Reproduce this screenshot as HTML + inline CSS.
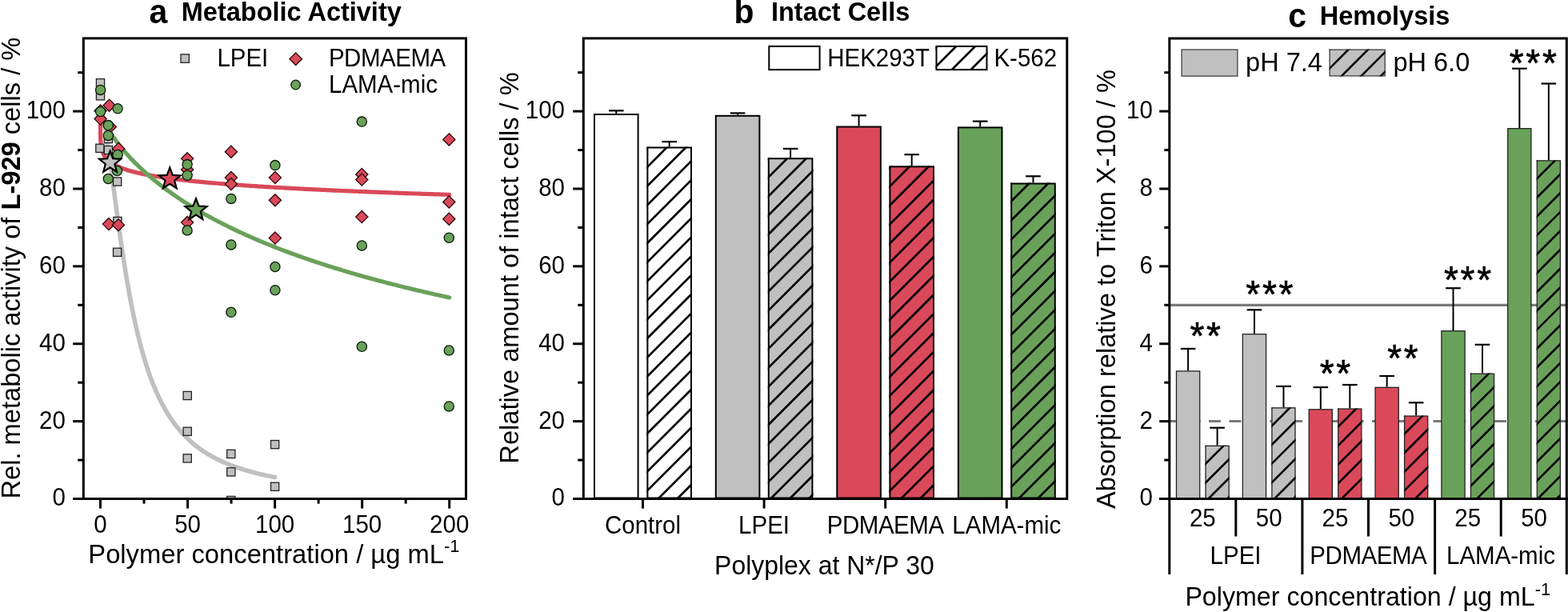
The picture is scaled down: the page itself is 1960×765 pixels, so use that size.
<!DOCTYPE html>
<html><head><meta charset="utf-8"><title>Figure</title>
<style>html,body{margin:0;padding:0;background:#fff;} svg{display:block;}</style>
</head><body>
<svg width="1960" height="765" viewBox="0 0 1960 765" font-family='"Liberation Sans", Arial, sans-serif'>
<rect width="1960" height="765" fill="#fff"/>
<clipPath id="plotA"><rect x="105.8" y="49.4" width="475.2" height="572.6"/></clipPath>
<g clip-path="url(#plotA)">
<path d="M126.15,139.70 L126.18,139.74 L126.22,139.79 L126.25,139.84 L126.28,139.90 L126.32,139.96 L126.35,140.02 L126.39,140.09 L126.43,140.17 L126.48,140.25 L126.52,140.34 L126.57,140.43 L126.61,140.53 L126.67,140.64 L126.72,140.75 L126.77,140.88 L126.83,141.01 L126.89,141.15 L126.95,141.31 L127.02,141.47 L127.09,141.65 L127.16,141.84 L127.24,142.05 L127.32,142.27 L127.40,142.51 L127.48,142.76 L127.57,143.04 L127.67,143.33 L127.77,143.65 L127.87,143.99 L127.98,144.36 L128.09,144.75 L128.21,145.17 L128.33,145.62 L128.46,146.11 L128.59,146.63 L128.73,147.19 L128.88,147.79 L129.03,148.43 L129.19,149.12 L129.36,149.86 L129.54,150.65 L129.72,151.50 L129.91,152.41 L130.11,153.39 L130.32,154.43 L130.54,155.55 L130.77,156.75 L131.01,158.03 L131.26,159.40 L131.52,160.86 L131.79,162.43 L132.08,164.10 L132.38,165.88 L132.69,167.78 L133.02,169.81 L133.36,171.98 L133.71,174.28 L134.09,176.73 L134.48,179.33 L134.88,182.10 L135.31,185.04 L135.76,188.16 L136.22,191.46 L136.71,194.96 L137.22,198.66 L137.75,202.57 L138.30,206.69 L138.88,211.04 L139.49,215.61 L140.13,220.42 L140.79,225.46 L141.49,230.75 L142.21,236.28 L142.97,242.06 L143.76,248.08 L144.59,254.36 L145.46,260.87 L146.36,267.63 L147.31,274.62 L148.96,286.59 L150.61,298.26 L152.26,309.61 L153.91,320.59 L155.56,331.22 L157.21,341.46 L158.86,351.32 L160.51,360.80 L162.16,369.90 L163.80,378.64 L165.45,387.01 L167.10,395.03 L168.75,402.71 L170.40,410.06 L172.05,417.10 L173.70,423.84 L175.35,430.28 L177.00,436.45 L178.65,442.35 L180.30,447.99 L181.95,453.40 L183.60,458.58 L185.25,463.53 L186.90,468.28 L188.55,472.83 L190.20,477.19 L191.85,481.37 L193.50,485.38 L195.15,489.23 L196.79,492.93 L198.44,496.47 L200.09,499.88 L201.74,503.15 L203.39,506.30 L205.04,509.33 L206.69,512.24 L208.34,515.04 L209.99,517.74 L211.64,520.33 L213.29,522.84 L214.94,525.25 L216.59,527.58 L218.24,529.82 L219.89,531.99 L221.54,534.08 L223.19,536.09 L224.84,538.04 L226.49,539.93 L228.14,541.75 L229.78,543.51 L231.43,545.22 L233.08,546.86 L234.73,548.46 L236.38,550.01 L238.03,551.50 L239.68,552.95 L241.33,554.36 L242.98,555.72 L244.63,557.05 L246.28,558.33 L247.93,559.57 L249.58,560.78 L251.23,561.95 L252.88,563.09 L254.53,564.20 L256.18,565.28 L257.83,566.32 L259.48,567.34 L261.13,568.33 L262.77,569.29 L264.42,570.22 L266.07,571.14 L267.72,572.02 L269.37,572.89 L271.02,573.73 L272.67,574.55 L274.32,575.34 L275.97,576.12 L277.62,576.88 L279.27,577.62 L280.92,578.34 L282.57,579.05 L284.22,579.73 L285.87,580.40 L287.52,581.06 L289.17,581.70 L290.82,582.32 L292.47,582.93 L294.12,583.53 L295.76,584.11 L297.41,584.68 L299.06,585.23 L300.71,585.78 L302.36,586.31 L304.01,586.83 L305.66,587.33 L307.31,587.83 L308.96,588.32 L310.61,588.79 L312.26,589.26 L313.91,589.72 L315.56,590.16 L317.21,590.60 L318.86,591.03 L320.51,591.45 L322.16,591.86 L323.81,592.26 L325.46,592.66 L327.11,593.04 L328.75,593.42 L330.40,593.79 L332.05,594.16 L333.70,594.52 L335.35,594.87 L337.00,595.21 L338.65,595.55 L340.30,595.88 L341.95,596.20 L343.60,596.52" fill="none" stroke="#c0c0c0" stroke-width="5.6" stroke-linecap="round" stroke-linejoin="round"/>
<path d="M125.50,153.98 L125.50,154.10 L125.50,154.22 L125.50,154.34 L125.50,154.46 L125.50,154.59 L125.50,154.71 L125.50,154.84 L125.50,154.97 L125.50,155.10 L125.50,155.23 L125.50,155.36 L125.50,155.49 L125.50,155.62 L125.50,155.75 L125.50,155.89 L125.50,156.02 L125.50,156.16 L125.50,156.30 L125.50,156.44 L125.50,156.57 L125.50,156.72 L125.50,156.86 L125.50,157.00 L125.50,157.14 L125.50,157.29 L125.50,157.44 L125.50,157.58 L125.50,157.73 L125.50,157.88 L125.50,158.03 L125.51,158.19 L125.51,158.34 L125.51,158.49 L125.51,158.65 L125.51,158.81 L125.51,158.96 L125.51,159.12 L125.51,159.28 L125.51,159.44 L125.51,159.61 L125.51,159.77 L125.51,159.94 L125.51,160.10 L125.51,160.27 L125.51,160.44 L125.51,160.61 L125.51,160.78 L125.51,160.96 L125.51,161.13 L125.51,161.31 L125.51,161.48 L125.51,161.66 L125.52,161.84 L125.52,162.02 L125.52,162.21 L125.52,162.39 L125.52,162.58 L125.52,162.76 L125.52,162.95 L125.52,163.14 L125.52,163.33 L125.52,163.52 L125.53,163.72 L125.53,163.91 L125.53,164.11 L125.53,164.31 L125.53,164.51 L125.53,164.71 L125.53,164.91 L125.54,165.12 L125.54,165.32 L125.54,165.53 L125.54,165.74 L125.54,165.95 L125.55,166.16 L125.55,166.37 L125.55,166.59 L125.55,166.81 L125.56,167.02 L125.56,167.24 L125.56,167.47 L125.56,167.69 L125.57,167.91 L125.57,168.14 L125.57,168.37 L125.58,168.60 L125.58,168.83 L125.59,169.06 L125.59,169.30 L125.60,169.53 L125.60,169.77 L125.61,170.01 L125.61,170.25 L125.62,170.50 L125.62,170.74 L125.63,170.99 L125.64,171.24 L125.64,171.49 L125.65,171.74 L125.66,172.00 L125.67,172.25 L125.67,172.51 L125.68,172.77 L125.69,173.03 L125.70,173.30 L125.71,173.56 L125.72,173.83 L125.74,174.10 L125.75,174.37 L125.76,174.65 L125.77,174.92 L125.79,175.20 L125.80,175.48 L125.82,175.76 L125.83,176.04 L125.85,176.33 L125.87,176.61 L125.89,176.90 L125.91,177.19 L125.93,177.49 L125.95,177.78 L125.97,178.08 L126.00,178.38 L126.02,178.68 L126.05,178.99 L126.08,179.29 L126.11,179.60 L126.14,179.91 L126.17,180.22 L126.20,180.54 L126.24,180.85 L126.28,181.17 L126.32,181.49 L126.36,181.82 L126.40,182.14 L126.45,182.47 L126.50,182.80 L126.55,183.13 L126.60,183.47 L126.66,183.80 L126.72,184.14 L126.78,184.48 L126.84,184.83 L126.91,185.17 L126.98,185.52 L127.06,185.87 L127.14,186.23 L127.22,186.58 L127.31,186.94 L127.40,187.30 L127.50,187.66 L127.60,188.03 L127.71,188.39 L127.82,188.76 L127.94,189.14 L128.07,189.51 L128.20,189.89 L128.33,190.27 L128.48,190.65 L128.63,191.04 L128.79,191.42 L128.96,191.81 L129.14,192.21 L129.32,192.60 L129.52,193.00 L129.72,193.40 L129.94,193.80 L130.16,194.21 L130.40,194.61 L130.65,195.03 L130.91,195.44 L131.19,195.85 L131.48,196.27 L131.79,196.69 L132.11,197.12 L132.44,197.54 L132.80,197.97 L133.17,198.41 L133.56,198.84 L133.97,199.28 L134.40,199.72 L134.86,200.16 L135.34,200.61 L135.84,201.06 L136.37,201.51 L136.92,201.96 L137.50,202.42 L138.12,202.88 L138.76,203.34 L139.44,203.81 L140.15,204.28 L140.89,204.75 L141.68,205.22 L142.51,205.70 L143.37,206.18 L144.29,206.66 L145.24,207.15 L146.25,207.63 L147.31,208.13 L149.92,209.25 L152.52,210.28 L155.13,211.22 L157.73,212.09 L160.34,212.90 L162.95,213.65 L165.55,214.37 L168.16,215.04 L170.77,215.68 L173.37,216.28 L175.98,216.86 L178.58,217.41 L181.19,217.94 L183.80,218.45 L186.40,218.93 L189.01,219.40 L191.62,219.85 L194.22,220.29 L196.83,220.71 L199.43,221.12 L202.04,221.52 L204.65,221.90 L207.25,222.27 L209.86,222.64 L212.47,222.99 L215.07,223.33 L217.68,223.67 L220.28,223.99 L222.89,224.31 L225.50,224.62 L228.10,224.93 L230.71,225.22 L233.32,225.51 L235.92,225.80 L238.53,226.07 L241.13,226.35 L243.74,226.61 L246.35,226.88 L248.95,227.13 L251.56,227.39 L254.17,227.63 L256.77,227.88 L259.38,228.11 L261.98,228.35 L264.59,228.58 L267.20,228.81 L269.80,229.03 L272.41,229.25 L275.02,229.47 L277.62,229.68 L280.23,229.89 L282.83,230.09 L285.44,230.30 L288.05,230.50 L290.65,230.70 L293.26,230.89 L295.86,231.08 L298.47,231.27 L301.08,231.46 L303.68,231.64 L306.29,231.83 L308.90,232.01 L311.50,232.18 L314.11,232.36 L316.71,232.53 L319.32,232.70 L321.93,232.87 L324.53,233.04 L327.14,233.20 L329.75,233.37 L332.35,233.53 L334.96,233.69 L337.56,233.84 L340.17,234.00 L342.78,234.15 L345.38,234.31 L347.99,234.46 L350.60,234.61 L353.20,234.75 L355.81,234.90 L358.41,235.05 L361.02,235.19 L363.63,235.33 L366.23,235.47 L368.84,235.61 L371.45,235.75 L374.05,235.88 L376.66,236.02 L379.26,236.15 L381.87,236.29 L384.48,236.42 L387.08,236.55 L389.69,236.68 L392.30,236.81 L394.90,236.93 L397.51,237.06 L400.11,237.18 L402.72,237.31 L405.33,237.43 L407.93,237.55 L410.54,237.67 L413.15,237.79 L415.75,237.91 L418.36,238.03 L420.96,238.15 L423.57,238.26 L426.18,238.38 L428.78,238.49 L431.39,238.60 L433.99,238.72 L436.60,238.83 L439.21,238.94 L441.81,239.05 L444.42,239.16 L447.03,239.26 L449.63,239.37 L452.24,239.48 L454.84,239.58 L457.45,239.69 L460.06,239.79 L462.66,239.90 L465.27,240.00 L467.88,240.10 L470.48,240.20 L473.09,240.30 L475.69,240.40 L478.30,240.50 L480.91,240.60 L483.51,240.70 L486.12,240.80 L488.73,240.90 L491.33,240.99 L493.94,241.09 L496.54,241.18 L499.15,241.28 L501.76,241.37 L504.36,241.46 L506.97,241.56 L509.58,241.65 L512.18,241.74 L514.79,241.83 L517.39,241.92 L520.00,242.01 L522.61,242.10 L525.21,242.19 L527.82,242.28 L530.43,242.37 L533.03,242.45 L535.64,242.54 L538.24,242.63 L540.85,242.71 L543.46,242.80 L546.06,242.88 L548.67,242.97 L551.28,243.05 L553.88,243.13 L556.49,243.22 L559.09,243.30 L561.70,243.38" fill="none" stroke="#d9495a" stroke-width="5.2" stroke-linecap="round" stroke-linejoin="round"/>
<path d="M127.68,146.24 L127.77,146.46 L127.86,146.68 L127.95,146.91 L128.05,147.15 L128.15,147.39 L128.26,147.64 L128.37,147.90 L128.48,148.17 L128.60,148.44 L128.72,148.73 L128.85,149.02 L128.98,149.32 L129.12,149.63 L129.27,149.94 L129.42,150.27 L129.57,150.61 L129.73,150.95 L129.90,151.31 L130.08,151.68 L130.26,152.05 L130.45,152.44 L130.65,152.84 L130.85,153.25 L131.06,153.68 L131.29,154.11 L131.52,154.56 L131.76,155.02 L132.00,155.50 L132.26,155.98 L132.53,156.49 L132.81,157.00 L133.10,157.53 L133.41,158.08 L133.72,158.64 L134.05,159.22 L134.39,159.81 L134.74,160.43 L135.11,161.05 L135.49,161.70 L135.89,162.36 L136.30,163.05 L136.73,163.75 L137.18,164.47 L137.65,165.21 L138.13,165.97 L138.63,166.75 L139.15,167.55 L139.70,168.38 L140.26,169.22 L140.85,170.09 L141.46,170.99 L142.10,171.90 L142.76,172.85 L143.44,173.81 L144.16,174.80 L144.90,175.82 L145.67,176.87 L146.48,177.94 L147.31,179.04 L149.92,182.38 L152.52,185.59 L155.13,188.69 L157.73,191.69 L160.34,194.60 L162.95,197.42 L165.55,200.16 L168.16,202.83 L170.77,205.42 L173.37,207.96 L175.98,210.43 L178.58,212.85 L181.19,215.21 L183.80,217.53 L186.40,219.79 L189.01,222.01 L191.62,224.18 L194.22,226.31 L196.83,228.40 L199.43,230.46 L202.04,232.47 L204.65,234.45 L207.25,236.40 L209.86,238.31 L212.47,240.19 L215.07,242.05 L217.68,243.87 L220.28,245.66 L222.89,247.43 L225.50,249.17 L228.10,250.88 L230.71,252.57 L233.32,254.23 L235.92,255.87 L238.53,257.49 L241.13,259.08 L243.74,260.65 L246.35,262.21 L248.95,263.74 L251.56,265.25 L254.17,266.74 L256.77,268.21 L259.38,269.67 L261.98,271.11 L264.59,272.52 L267.20,273.93 L269.80,275.31 L272.41,276.68 L275.02,278.03 L277.62,279.37 L280.23,280.69 L282.83,282.00 L285.44,283.29 L288.05,284.57 L290.65,285.83 L293.26,287.08 L295.86,288.32 L298.47,289.54 L301.08,290.75 L303.68,291.95 L306.29,293.13 L308.90,294.30 L311.50,295.47 L314.11,296.61 L316.71,297.75 L319.32,298.88 L321.93,299.99 L324.53,301.10 L327.14,302.19 L329.75,303.28 L332.35,304.35 L334.96,305.41 L337.56,306.46 L340.17,307.51 L342.78,308.54 L345.38,309.57 L347.99,310.58 L350.60,311.59 L353.20,312.58 L355.81,313.57 L358.41,314.55 L361.02,315.52 L363.63,316.48 L366.23,317.44 L368.84,318.38 L371.45,319.32 L374.05,320.25 L376.66,321.17 L379.26,322.08 L381.87,322.99 L384.48,323.89 L387.08,324.78 L389.69,325.67 L392.30,326.54 L394.90,327.41 L397.51,328.28 L400.11,329.13 L402.72,329.98 L405.33,330.83 L407.93,331.66 L410.54,332.49 L413.15,333.32 L415.75,334.14 L418.36,334.95 L420.96,335.75 L423.57,336.55 L426.18,337.34 L428.78,338.13 L431.39,338.91 L433.99,339.69 L436.60,340.46 L439.21,341.22 L441.81,341.98 L444.42,342.74 L447.03,343.49 L449.63,344.23 L452.24,344.97 L454.84,345.70 L457.45,346.43 L460.06,347.15 L462.66,347.87 L465.27,348.58 L467.88,349.29 L470.48,349.99 L473.09,350.69 L475.69,351.38 L478.30,352.07 L480.91,352.75 L483.51,353.43 L486.12,354.11 L488.73,354.78 L491.33,355.44 L493.94,356.10 L496.54,356.76 L499.15,357.42 L501.76,358.06 L504.36,358.71 L506.97,359.35 L509.58,359.99 L512.18,360.62 L514.79,361.25 L517.39,361.87 L520.00,362.49 L522.61,363.11 L525.21,363.73 L527.82,364.33 L530.43,364.94 L533.03,365.54 L535.64,366.14 L538.24,366.74 L540.85,367.33 L543.46,367.92 L546.06,368.50 L548.67,369.08 L551.28,369.66 L553.88,370.23 L556.49,370.80 L559.09,371.37 L561.70,371.93" fill="none" stroke="#6aa15a" stroke-width="5.2" stroke-linecap="round" stroke-linejoin="round"/>
<rect x="120.40" y="98.60" width="10.2" height="10.2" fill="#c0c0c0" stroke="#222" stroke-width="1.3"/>
<rect x="120.40" y="114.70" width="10.2" height="10.2" fill="#c0c0c0" stroke="#222" stroke-width="1.3"/>
<rect x="119.80" y="180.20" width="10.2" height="10.2" fill="#c0c0c0" stroke="#222" stroke-width="1.3"/>
<rect x="130.30" y="168.40" width="10.2" height="10.2" fill="#c0c0c0" stroke="#222" stroke-width="1.3"/>
<rect x="130.30" y="182.50" width="10.2" height="10.2" fill="#c0c0c0" stroke="#222" stroke-width="1.3"/>
<rect x="141.50" y="221.90" width="10.2" height="10.2" fill="#c0c0c0" stroke="#222" stroke-width="1.3"/>
<rect x="141.80" y="271.40" width="10.2" height="10.2" fill="#c0c0c0" stroke="#222" stroke-width="1.3"/>
<rect x="141.50" y="310.20" width="10.2" height="10.2" fill="#c0c0c0" stroke="#222" stroke-width="1.3"/>
<rect x="229.10" y="489.40" width="10.2" height="10.2" fill="#c0c0c0" stroke="#222" stroke-width="1.3"/>
<rect x="229.10" y="534.20" width="10.2" height="10.2" fill="#c0c0c0" stroke="#222" stroke-width="1.3"/>
<rect x="229.10" y="567.80" width="10.2" height="10.2" fill="#c0c0c0" stroke="#222" stroke-width="1.3"/>
<rect x="283.70" y="562.30" width="10.2" height="10.2" fill="#c0c0c0" stroke="#222" stroke-width="1.3"/>
<rect x="283.70" y="584.80" width="10.2" height="10.2" fill="#c0c0c0" stroke="#222" stroke-width="1.3"/>
<rect x="283.70" y="620.40" width="10.2" height="10.2" fill="#c0c0c0" stroke="#222" stroke-width="1.3"/>
<rect x="338.50" y="550.50" width="10.2" height="10.2" fill="#c0c0c0" stroke="#222" stroke-width="1.3"/>
<rect x="338.50" y="603.20" width="10.2" height="10.2" fill="#c0c0c0" stroke="#222" stroke-width="1.3"/>
<polygon points="125.60,130.90 133.20,138.50 125.60,146.10 118.00,138.50" fill="#d9495a" stroke="#2a0a0a" stroke-width="1.3"/>
<polygon points="125.60,141.00 133.20,148.60 125.60,156.20 118.00,148.60" fill="#d9495a" stroke="#2a0a0a" stroke-width="1.3"/>
<polygon points="136.60,124.10 144.20,131.70 136.60,139.30 129.00,131.70" fill="#d9495a" stroke="#2a0a0a" stroke-width="1.3"/>
<polygon points="137.80,150.90 145.40,158.50 137.80,166.10 130.20,158.50" fill="#d9495a" stroke="#2a0a0a" stroke-width="1.3"/>
<polygon points="136.00,272.50 143.60,280.10 136.00,287.70 128.40,280.10" fill="#d9495a" stroke="#2a0a0a" stroke-width="1.3"/>
<polygon points="148.20,178.30 155.80,185.90 148.20,193.50 140.60,185.90" fill="#d9495a" stroke="#2a0a0a" stroke-width="1.3"/>
<polygon points="147.90,273.60 155.50,281.20 147.90,288.80 140.30,281.20" fill="#d9495a" stroke="#2a0a0a" stroke-width="1.3"/>
<polygon points="234.10,190.70 241.70,198.30 234.10,205.90 226.50,198.30" fill="#d9495a" stroke="#2a0a0a" stroke-width="1.3"/>
<polygon points="234.10,204.30 241.70,211.90 234.10,219.50 226.50,211.90" fill="#d9495a" stroke="#2a0a0a" stroke-width="1.3"/>
<polygon points="234.10,270.50 241.70,278.10 234.10,285.70 226.50,278.10" fill="#d9495a" stroke="#2a0a0a" stroke-width="1.3"/>
<polygon points="288.90,182.10 296.50,189.70 288.90,197.30 281.30,189.70" fill="#d9495a" stroke="#2a0a0a" stroke-width="1.3"/>
<polygon points="288.90,214.50 296.50,222.10 288.90,229.70 281.30,222.10" fill="#d9495a" stroke="#2a0a0a" stroke-width="1.3"/>
<polygon points="288.90,222.40 296.50,230.00 288.90,237.60 281.30,230.00" fill="#d9495a" stroke="#2a0a0a" stroke-width="1.3"/>
<polygon points="343.90,214.50 351.50,222.10 343.90,229.70 336.30,222.10" fill="#d9495a" stroke="#2a0a0a" stroke-width="1.3"/>
<polygon points="343.90,242.70 351.50,250.30 343.90,257.90 336.30,250.30" fill="#d9495a" stroke="#2a0a0a" stroke-width="1.3"/>
<polygon points="343.90,290.00 351.50,297.60 343.90,305.20 336.30,297.60" fill="#d9495a" stroke="#2a0a0a" stroke-width="1.3"/>
<polygon points="452.30,210.40 459.90,218.00 452.30,225.60 444.70,218.00" fill="#d9495a" stroke="#2a0a0a" stroke-width="1.3"/>
<polygon points="452.30,216.90 459.90,224.50 452.30,232.10 444.70,224.50" fill="#d9495a" stroke="#2a0a0a" stroke-width="1.3"/>
<polygon points="452.30,263.50 459.90,271.10 452.30,278.70 444.70,271.10" fill="#d9495a" stroke="#2a0a0a" stroke-width="1.3"/>
<polygon points="561.30,166.80 568.90,174.40 561.30,182.00 553.70,174.40" fill="#d9495a" stroke="#2a0a0a" stroke-width="1.3"/>
<polygon points="561.30,244.90 568.90,252.50 561.30,260.10 553.70,252.50" fill="#d9495a" stroke="#2a0a0a" stroke-width="1.3"/>
<polygon points="561.30,266.10 568.90,273.70 561.30,281.30 553.70,273.70" fill="#d9495a" stroke="#2a0a0a" stroke-width="1.3"/>
<circle cx="125.60" cy="112.40" r="6.1" fill="#6aa15a" stroke="#0a1a0a" stroke-width="1.3"/>
<circle cx="125.60" cy="139.50" r="6.1" fill="#6aa15a" stroke="#0a1a0a" stroke-width="1.3"/>
<circle cx="147.10" cy="135.80" r="6.1" fill="#6aa15a" stroke="#0a1a0a" stroke-width="1.3"/>
<circle cx="135.30" cy="156.60" r="6.1" fill="#6aa15a" stroke="#0a1a0a" stroke-width="1.3"/>
<circle cx="135.30" cy="169.40" r="6.1" fill="#6aa15a" stroke="#0a1a0a" stroke-width="1.3"/>
<circle cx="147.10" cy="193.50" r="6.1" fill="#6aa15a" stroke="#0a1a0a" stroke-width="1.3"/>
<circle cx="146.50" cy="213.50" r="6.1" fill="#6aa15a" stroke="#0a1a0a" stroke-width="1.3"/>
<circle cx="135.30" cy="223.50" r="6.1" fill="#6aa15a" stroke="#0a1a0a" stroke-width="1.3"/>
<circle cx="234.10" cy="205.60" r="6.1" fill="#6aa15a" stroke="#0a1a0a" stroke-width="1.3"/>
<circle cx="234.10" cy="219.20" r="6.1" fill="#6aa15a" stroke="#0a1a0a" stroke-width="1.3"/>
<circle cx="234.10" cy="288.00" r="6.1" fill="#6aa15a" stroke="#0a1a0a" stroke-width="1.3"/>
<circle cx="288.90" cy="248.40" r="6.1" fill="#6aa15a" stroke="#0a1a0a" stroke-width="1.3"/>
<circle cx="288.90" cy="305.90" r="6.1" fill="#6aa15a" stroke="#0a1a0a" stroke-width="1.3"/>
<circle cx="288.90" cy="390.30" r="6.1" fill="#6aa15a" stroke="#0a1a0a" stroke-width="1.3"/>
<circle cx="343.90" cy="206.60" r="6.1" fill="#6aa15a" stroke="#0a1a0a" stroke-width="1.3"/>
<circle cx="343.90" cy="333.50" r="6.1" fill="#6aa15a" stroke="#0a1a0a" stroke-width="1.3"/>
<circle cx="343.90" cy="362.70" r="6.1" fill="#6aa15a" stroke="#0a1a0a" stroke-width="1.3"/>
<circle cx="452.30" cy="152.10" r="6.1" fill="#6aa15a" stroke="#0a1a0a" stroke-width="1.3"/>
<circle cx="452.30" cy="306.90" r="6.1" fill="#6aa15a" stroke="#0a1a0a" stroke-width="1.3"/>
<circle cx="452.30" cy="433.30" r="6.1" fill="#6aa15a" stroke="#0a1a0a" stroke-width="1.3"/>
<circle cx="561.30" cy="297.20" r="6.1" fill="#6aa15a" stroke="#0a1a0a" stroke-width="1.3"/>
<circle cx="561.30" cy="438.00" r="6.1" fill="#6aa15a" stroke="#0a1a0a" stroke-width="1.3"/>
<circle cx="561.30" cy="507.90" r="6.1" fill="#6aa15a" stroke="#0a1a0a" stroke-width="1.3"/>
<polygon points="137.60,189.00 141.19,198.26 151.11,198.81 143.41,205.09 145.95,214.69 137.60,209.31 129.25,214.69 131.79,205.09 124.09,198.81 134.01,198.26" fill="#c0c0c0" stroke="#000" stroke-width="2.2" stroke-linejoin="miter" stroke-miterlimit="10"/>
<polygon points="212.30,209.60 215.89,218.86 225.81,219.41 218.11,225.69 220.65,235.29 212.30,229.91 203.95,235.29 206.49,225.69 198.79,219.41 208.71,218.86" fill="#d9495a" stroke="#000" stroke-width="2.2" stroke-linejoin="miter" stroke-miterlimit="10"/>
<polygon points="245.00,248.30 248.59,257.56 258.51,258.11 250.81,264.39 253.35,273.99 245.00,268.61 236.65,273.99 239.19,264.39 231.49,258.11 241.41,257.56" fill="#6aa15a" stroke="#000" stroke-width="2.2" stroke-linejoin="miter" stroke-miterlimit="10"/>
</g>
<rect x="104.3" y="47.9" width="478.2" height="575.6" fill="none" stroke="#000" stroke-width="3"/>
<line x1="91.20" y1="623.50" x2="104.30" y2="623.50" stroke="#000" stroke-width="3" />
<text x="81.90" y="632.40" font-size="29.5" text-anchor="end" font-weight="normal" transform="matrix(1 0 0 1.04 0 -25.296)" >0</text>
<line x1="97.30" y1="575.06" x2="104.30" y2="575.06" stroke="#000" stroke-width="3" />
<line x1="91.20" y1="526.62" x2="104.30" y2="526.62" stroke="#000" stroke-width="3" />
<text x="81.90" y="535.52" font-size="29.5" text-anchor="end" font-weight="normal" transform="matrix(1 0 0 1.04 0 -21.421)" >20</text>
<line x1="97.30" y1="478.18" x2="104.30" y2="478.18" stroke="#000" stroke-width="3" />
<line x1="91.20" y1="429.74" x2="104.30" y2="429.74" stroke="#000" stroke-width="3" />
<text x="81.90" y="438.64" font-size="29.5" text-anchor="end" font-weight="normal" transform="matrix(1 0 0 1.04 0 -17.546)" >40</text>
<line x1="97.30" y1="381.30" x2="104.30" y2="381.30" stroke="#000" stroke-width="3" />
<line x1="91.20" y1="332.86" x2="104.30" y2="332.86" stroke="#000" stroke-width="3" />
<text x="81.90" y="341.76" font-size="29.5" text-anchor="end" font-weight="normal" transform="matrix(1 0 0 1.04 0 -13.670)" >60</text>
<line x1="97.30" y1="284.42" x2="104.30" y2="284.42" stroke="#000" stroke-width="3" />
<line x1="91.20" y1="235.98" x2="104.30" y2="235.98" stroke="#000" stroke-width="3" />
<text x="81.90" y="244.88" font-size="29.5" text-anchor="end" font-weight="normal" transform="matrix(1 0 0 1.04 0 -9.795)" >80</text>
<line x1="97.30" y1="187.54" x2="104.30" y2="187.54" stroke="#000" stroke-width="3" />
<line x1="91.20" y1="139.10" x2="104.30" y2="139.10" stroke="#000" stroke-width="3" />
<text x="81.90" y="148.00" font-size="29.5" text-anchor="end" font-weight="normal" transform="matrix(1 0 0 1.04 0 -5.920)" >100</text>
<line x1="97.30" y1="90.66" x2="104.30" y2="90.66" stroke="#000" stroke-width="3" />
<line x1="125.50" y1="623.50" x2="125.50" y2="635.60" stroke="#000" stroke-width="3" />
<text x="125.50" y="666.50" font-size="29.5" text-anchor="middle" font-weight="normal" transform="matrix(1 0 0 1.04 0 -26.660)" >0</text>
<line x1="180.03" y1="623.50" x2="180.03" y2="629.60" stroke="#000" stroke-width="3" />
<line x1="234.55" y1="623.50" x2="234.55" y2="635.60" stroke="#000" stroke-width="3" />
<text x="234.55" y="666.50" font-size="29.5" text-anchor="middle" font-weight="normal" transform="matrix(1 0 0 1.04 0 -26.660)" >50</text>
<line x1="289.08" y1="623.50" x2="289.08" y2="629.60" stroke="#000" stroke-width="3" />
<line x1="343.60" y1="623.50" x2="343.60" y2="635.60" stroke="#000" stroke-width="3" />
<text x="343.60" y="666.50" font-size="29.5" text-anchor="middle" font-weight="normal" transform="matrix(1 0 0 1.04 0 -26.660)" >100</text>
<line x1="398.12" y1="623.50" x2="398.12" y2="629.60" stroke="#000" stroke-width="3" />
<line x1="452.65" y1="623.50" x2="452.65" y2="635.60" stroke="#000" stroke-width="3" />
<text x="452.65" y="666.50" font-size="29.5" text-anchor="middle" font-weight="normal" transform="matrix(1 0 0 1.04 0 -26.660)" >150</text>
<line x1="507.18" y1="623.50" x2="507.18" y2="629.60" stroke="#000" stroke-width="3" />
<line x1="561.70" y1="623.50" x2="561.70" y2="635.60" stroke="#000" stroke-width="3" />
<text x="561.70" y="666.50" font-size="29.5" text-anchor="middle" font-weight="normal" transform="matrix(1 0 0 1.04 0 -26.660)" >200</text>
<text x="110.3" y="704.4" transform="matrix(1 0 0 1.04 0 -28.176)" font-size="32.75">Polymer concentration / µg mL<tspan font-size="22" dy="-13.4">-1</tspan></text>
<text transform="translate(24.7,335.1) rotate(-90) scale(1,1.04)" x="0" y="0" font-size="32.65" text-anchor="middle">Rel. metabolic activity of <tspan font-weight="bold">L-929</tspan> cells / %</text>
<text x="186.60" y="29.30" font-size="41" text-anchor="start" font-weight="bold" transform="matrix(1 0 0 1.04 0 -1.172)" >a</text>
<text x="226.80" y="26.40" font-size="32.5" text-anchor="start" font-weight="bold" transform="matrix(1 0 0 1.04 0 -1.056)" >Metabolic Activity</text>
<rect x="226.00" y="67.90" width="10.4" height="10.4" fill="#c0c0c0" stroke="#222" stroke-width="1.3"/>
<text x="271.40" y="82.60" font-size="29.5" text-anchor="start" font-weight="normal" transform="matrix(1 0 0 1.04 0 -3.304)" >LPEI</text>
<polygon points="369.70,65.90 377.50,73.70 369.70,81.50 361.90,73.70" fill="#d9495a" stroke="#2a0a0a" stroke-width="1.3"/>
<text x="410.90" y="82.60" font-size="29.5" text-anchor="start" font-weight="normal" transform="matrix(1 0 0 1.04 0 -3.304)" letter-spacing="-0.45">PDMAEMA</text>
<circle cx="369.60" cy="106.00" r="5.8" fill="#6aa15a" stroke="#0a1a0a" stroke-width="1.3"/>
<text x="411.00" y="116.20" font-size="29.5" text-anchor="start" font-weight="normal" transform="matrix(1 0 0 1.04 0 -4.648)" >LAMA-mic</text>
<line x1="770.30" y1="142.00" x2="770.30" y2="138.30" stroke="#000" stroke-width="2" />
<line x1="761.00" y1="138.30" x2="779.60" y2="138.30" stroke="#000" stroke-width="2.2" />
<rect x="743.00" y="143.00" width="54.60" height="479.50" fill="#fff" stroke="#000" stroke-width="2"/>
<line x1="836.70" y1="183.50" x2="836.70" y2="177.10" stroke="#000" stroke-width="2" />
<line x1="827.40" y1="177.10" x2="846.00" y2="177.10" stroke="#000" stroke-width="2.2" />
<rect x="809.40" y="184.50" width="54.60" height="438.00" fill="#fff"/>
<clipPath id="c121"><rect x="808.40" y="183.50" width="56.60" height="440.00"/></clipPath>
<g clip-path="url(#c121)" stroke="#000" stroke-width="2.7">
<line x1="368.50" y1="625.50" x2="812.50" y2="181.50"/>
<line x1="392.30" y1="625.50" x2="836.30" y2="181.50"/>
<line x1="416.10" y1="625.50" x2="860.10" y2="181.50"/>
<line x1="439.90" y1="625.50" x2="883.90" y2="181.50"/>
<line x1="463.70" y1="625.50" x2="907.70" y2="181.50"/>
<line x1="487.50" y1="625.50" x2="931.50" y2="181.50"/>
<line x1="511.30" y1="625.50" x2="955.30" y2="181.50"/>
<line x1="535.10" y1="625.50" x2="979.10" y2="181.50"/>
<line x1="558.90" y1="625.50" x2="1002.90" y2="181.50"/>
<line x1="582.70" y1="625.50" x2="1026.70" y2="181.50"/>
<line x1="606.50" y1="625.50" x2="1050.50" y2="181.50"/>
<line x1="630.30" y1="625.50" x2="1074.30" y2="181.50"/>
<line x1="654.10" y1="625.50" x2="1098.10" y2="181.50"/>
<line x1="677.90" y1="625.50" x2="1121.90" y2="181.50"/>
<line x1="701.70" y1="625.50" x2="1145.70" y2="181.50"/>
<line x1="725.50" y1="625.50" x2="1169.50" y2="181.50"/>
<line x1="749.30" y1="625.50" x2="1193.30" y2="181.50"/>
<line x1="773.10" y1="625.50" x2="1217.10" y2="181.50"/>
<line x1="796.90" y1="625.50" x2="1240.90" y2="181.50"/>
<line x1="820.70" y1="625.50" x2="1264.70" y2="181.50"/>
<line x1="844.50" y1="625.50" x2="1288.50" y2="181.50"/>
<line x1="868.30" y1="625.50" x2="1312.30" y2="181.50"/>
</g>
<rect x="809.40" y="184.50" width="54.60" height="438.00" fill="none" stroke="#000" stroke-width="2"/>
<line x1="922.10" y1="143.80" x2="922.10" y2="141.40" stroke="#000" stroke-width="2" />
<line x1="912.80" y1="141.40" x2="931.40" y2="141.40" stroke="#000" stroke-width="2.2" />
<rect x="894.80" y="144.80" width="54.60" height="477.70" fill="#c0c0c0" stroke="#000" stroke-width="2"/>
<line x1="988.10" y1="197.20" x2="988.10" y2="185.90" stroke="#000" stroke-width="2" />
<line x1="978.80" y1="185.90" x2="997.40" y2="185.90" stroke="#000" stroke-width="2.2" />
<rect x="960.80" y="198.20" width="54.60" height="424.30" fill="#c0c0c0"/>
<clipPath id="c153"><rect x="959.80" y="197.20" width="56.60" height="426.30"/></clipPath>
<g clip-path="url(#c153)" stroke="#000" stroke-width="2.7">
<line x1="532.80" y1="625.50" x2="963.10" y2="195.20"/>
<line x1="556.60" y1="625.50" x2="986.90" y2="195.20"/>
<line x1="580.40" y1="625.50" x2="1010.70" y2="195.20"/>
<line x1="604.20" y1="625.50" x2="1034.50" y2="195.20"/>
<line x1="628.00" y1="625.50" x2="1058.30" y2="195.20"/>
<line x1="651.80" y1="625.50" x2="1082.10" y2="195.20"/>
<line x1="675.60" y1="625.50" x2="1105.90" y2="195.20"/>
<line x1="699.40" y1="625.50" x2="1129.70" y2="195.20"/>
<line x1="723.20" y1="625.50" x2="1153.50" y2="195.20"/>
<line x1="747.00" y1="625.50" x2="1177.30" y2="195.20"/>
<line x1="770.80" y1="625.50" x2="1201.10" y2="195.20"/>
<line x1="794.60" y1="625.50" x2="1224.90" y2="195.20"/>
<line x1="818.40" y1="625.50" x2="1248.70" y2="195.20"/>
<line x1="842.20" y1="625.50" x2="1272.50" y2="195.20"/>
<line x1="866.00" y1="625.50" x2="1296.30" y2="195.20"/>
<line x1="889.80" y1="625.50" x2="1320.10" y2="195.20"/>
<line x1="913.60" y1="625.50" x2="1343.90" y2="195.20"/>
<line x1="937.40" y1="625.50" x2="1367.70" y2="195.20"/>
<line x1="961.20" y1="625.50" x2="1391.50" y2="195.20"/>
<line x1="985.00" y1="625.50" x2="1415.30" y2="195.20"/>
<line x1="1008.80" y1="625.50" x2="1439.10" y2="195.20"/>
<line x1="1032.60" y1="625.50" x2="1462.90" y2="195.20"/>
</g>
<rect x="960.80" y="198.20" width="54.60" height="424.30" fill="none" stroke="#000" stroke-width="2"/>
<line x1="1073.60" y1="157.50" x2="1073.60" y2="144.30" stroke="#000" stroke-width="2" />
<line x1="1064.30" y1="144.30" x2="1082.90" y2="144.30" stroke="#000" stroke-width="2.2" />
<rect x="1046.30" y="158.50" width="54.60" height="464.00" fill="#d9495a" stroke="#000" stroke-width="2"/>
<line x1="1139.70" y1="207.30" x2="1139.70" y2="193.20" stroke="#000" stroke-width="2" />
<line x1="1130.40" y1="193.20" x2="1149.00" y2="193.20" stroke="#000" stroke-width="2.2" />
<rect x="1112.40" y="208.30" width="54.60" height="414.20" fill="#d9495a"/>
<clipPath id="c185"><rect x="1111.40" y="207.30" width="56.60" height="416.20"/></clipPath>
<g clip-path="url(#c185)" stroke="#000" stroke-width="2.7">
<line x1="695.80" y1="625.50" x2="1116.00" y2="205.30"/>
<line x1="719.60" y1="625.50" x2="1139.80" y2="205.30"/>
<line x1="743.40" y1="625.50" x2="1163.60" y2="205.30"/>
<line x1="767.20" y1="625.50" x2="1187.40" y2="205.30"/>
<line x1="791.00" y1="625.50" x2="1211.20" y2="205.30"/>
<line x1="814.80" y1="625.50" x2="1235.00" y2="205.30"/>
<line x1="838.60" y1="625.50" x2="1258.80" y2="205.30"/>
<line x1="862.40" y1="625.50" x2="1282.60" y2="205.30"/>
<line x1="886.20" y1="625.50" x2="1306.40" y2="205.30"/>
<line x1="910.00" y1="625.50" x2="1330.20" y2="205.30"/>
<line x1="933.80" y1="625.50" x2="1354.00" y2="205.30"/>
<line x1="957.60" y1="625.50" x2="1377.80" y2="205.30"/>
<line x1="981.40" y1="625.50" x2="1401.60" y2="205.30"/>
<line x1="1005.20" y1="625.50" x2="1425.40" y2="205.30"/>
<line x1="1029.00" y1="625.50" x2="1449.20" y2="205.30"/>
<line x1="1052.80" y1="625.50" x2="1473.00" y2="205.30"/>
<line x1="1076.60" y1="625.50" x2="1496.80" y2="205.30"/>
<line x1="1100.40" y1="625.50" x2="1520.60" y2="205.30"/>
<line x1="1124.20" y1="625.50" x2="1544.40" y2="205.30"/>
<line x1="1148.00" y1="625.50" x2="1568.20" y2="205.30"/>
<line x1="1171.80" y1="625.50" x2="1592.00" y2="205.30"/>
</g>
<rect x="1112.40" y="208.30" width="54.60" height="414.20" fill="none" stroke="#000" stroke-width="2"/>
<line x1="1225.20" y1="158.40" x2="1225.20" y2="151.60" stroke="#000" stroke-width="2" />
<line x1="1215.90" y1="151.60" x2="1234.50" y2="151.60" stroke="#000" stroke-width="2.2" />
<rect x="1197.90" y="159.40" width="54.60" height="463.10" fill="#6aa15a" stroke="#000" stroke-width="2"/>
<line x1="1291.50" y1="228.50" x2="1291.50" y2="220.30" stroke="#000" stroke-width="2" />
<line x1="1282.20" y1="220.30" x2="1300.80" y2="220.30" stroke="#000" stroke-width="2.2" />
<rect x="1264.20" y="229.50" width="54.60" height="393.00" fill="#6aa15a"/>
<clipPath id="c216"><rect x="1263.20" y="228.50" width="56.60" height="395.00"/></clipPath>
<g clip-path="url(#c216)" stroke="#000" stroke-width="2.7">
<line x1="866.40" y1="625.50" x2="1265.40" y2="226.50"/>
<line x1="890.20" y1="625.50" x2="1289.20" y2="226.50"/>
<line x1="914.00" y1="625.50" x2="1313.00" y2="226.50"/>
<line x1="937.80" y1="625.50" x2="1336.80" y2="226.50"/>
<line x1="961.60" y1="625.50" x2="1360.60" y2="226.50"/>
<line x1="985.40" y1="625.50" x2="1384.40" y2="226.50"/>
<line x1="1009.20" y1="625.50" x2="1408.20" y2="226.50"/>
<line x1="1033.00" y1="625.50" x2="1432.00" y2="226.50"/>
<line x1="1056.80" y1="625.50" x2="1455.80" y2="226.50"/>
<line x1="1080.60" y1="625.50" x2="1479.60" y2="226.50"/>
<line x1="1104.40" y1="625.50" x2="1503.40" y2="226.50"/>
<line x1="1128.20" y1="625.50" x2="1527.20" y2="226.50"/>
<line x1="1152.00" y1="625.50" x2="1551.00" y2="226.50"/>
<line x1="1175.80" y1="625.50" x2="1574.80" y2="226.50"/>
<line x1="1199.60" y1="625.50" x2="1598.60" y2="226.50"/>
<line x1="1223.40" y1="625.50" x2="1622.40" y2="226.50"/>
<line x1="1247.20" y1="625.50" x2="1646.20" y2="226.50"/>
<line x1="1271.00" y1="625.50" x2="1670.00" y2="226.50"/>
<line x1="1294.80" y1="625.50" x2="1693.80" y2="226.50"/>
<line x1="1318.60" y1="625.50" x2="1717.60" y2="226.50"/>
</g>
<rect x="1264.20" y="229.50" width="54.60" height="393.00" fill="none" stroke="#000" stroke-width="2"/>
<rect x="729.3" y="47.9" width="604.5" height="575.6" fill="none" stroke="#000" stroke-width="3"/>
<line x1="716.20" y1="623.50" x2="729.30" y2="623.50" stroke="#000" stroke-width="3" />
<text x="706.00" y="632.40" font-size="29.5" text-anchor="end" font-weight="normal" transform="matrix(1 0 0 1.04 0 -25.296)" >0</text>
<line x1="722.30" y1="575.06" x2="729.30" y2="575.06" stroke="#000" stroke-width="3" />
<line x1="716.20" y1="526.62" x2="729.30" y2="526.62" stroke="#000" stroke-width="3" />
<text x="706.00" y="535.52" font-size="29.5" text-anchor="end" font-weight="normal" transform="matrix(1 0 0 1.04 0 -21.421)" >20</text>
<line x1="722.30" y1="478.18" x2="729.30" y2="478.18" stroke="#000" stroke-width="3" />
<line x1="716.20" y1="429.74" x2="729.30" y2="429.74" stroke="#000" stroke-width="3" />
<text x="706.00" y="438.64" font-size="29.5" text-anchor="end" font-weight="normal" transform="matrix(1 0 0 1.04 0 -17.546)" >40</text>
<line x1="722.30" y1="381.30" x2="729.30" y2="381.30" stroke="#000" stroke-width="3" />
<line x1="716.20" y1="332.86" x2="729.30" y2="332.86" stroke="#000" stroke-width="3" />
<text x="706.00" y="341.76" font-size="29.5" text-anchor="end" font-weight="normal" transform="matrix(1 0 0 1.04 0 -13.670)" >60</text>
<line x1="722.30" y1="284.42" x2="729.30" y2="284.42" stroke="#000" stroke-width="3" />
<line x1="716.20" y1="235.98" x2="729.30" y2="235.98" stroke="#000" stroke-width="3" />
<text x="706.00" y="244.88" font-size="29.5" text-anchor="end" font-weight="normal" transform="matrix(1 0 0 1.04 0 -9.795)" >80</text>
<line x1="722.30" y1="187.54" x2="729.30" y2="187.54" stroke="#000" stroke-width="3" />
<line x1="716.20" y1="139.10" x2="729.30" y2="139.10" stroke="#000" stroke-width="3" />
<text x="706.00" y="148.00" font-size="29.5" text-anchor="end" font-weight="normal" transform="matrix(1 0 0 1.04 0 -5.920)" >100</text>
<line x1="722.30" y1="90.66" x2="729.30" y2="90.66" stroke="#000" stroke-width="3" />
<line x1="803.50" y1="623.50" x2="803.50" y2="635.60" stroke="#000" stroke-width="3" />
<text x="803.50" y="667.00" font-size="29.5" text-anchor="middle" font-weight="normal" transform="matrix(1 0 0 1.04 0 -26.680)" >Control</text>
<line x1="955.10" y1="623.50" x2="955.10" y2="635.60" stroke="#000" stroke-width="3" />
<text x="955.10" y="667.00" font-size="29.5" text-anchor="middle" font-weight="normal" transform="matrix(1 0 0 1.04 0 -26.680)" >LPEI</text>
<line x1="1106.70" y1="623.50" x2="1106.70" y2="635.60" stroke="#000" stroke-width="3" />
<text x="1106.70" y="667.00" font-size="29.5" text-anchor="middle" font-weight="normal" transform="matrix(1 0 0 1.04 0 -26.680)" letter-spacing="-0.45">PDMAEMA</text>
<line x1="1258.30" y1="623.50" x2="1258.30" y2="635.60" stroke="#000" stroke-width="3" />
<text x="1258.30" y="667.00" font-size="29.5" text-anchor="middle" font-weight="normal" transform="matrix(1 0 0 1.04 0 -26.680)" >LAMA-mic</text>
<text x="1030.40" y="718.20" font-size="31.95" text-anchor="middle" font-weight="normal" transform="matrix(1 0 0 1.04 0 -28.728)" >Polyplex at N*/P 30</text>
<text transform="translate(648,335) rotate(-90) scale(1,1.04)" x="0" y="0" font-size="32.63" text-anchor="middle">Relative amount of intact cells / %</text>
<text x="917.50" y="29.40" font-size="41" text-anchor="start" font-weight="bold" transform="matrix(1 0 0 1.04 0 -1.176)" >b</text>
<text x="964.00" y="26.20" font-size="32.5" text-anchor="start" font-weight="bold" transform="matrix(1 0 0 1.04 0 -1.048)" >Intact Cells</text>
<rect x="961.3" y="57.9" width="63.3" height="29.2" fill="#fff" stroke="#000" stroke-width="2"/>
<text x="1034.20" y="82.80" font-size="29.5" text-anchor="start" font-weight="normal" transform="matrix(1 0 0 1.04 0 -3.312)" >HEK293T</text>
<rect x="1170.50" y="57.90" width="63.00" height="29.20" fill="#fff"/>
<clipPath id="c274"><rect x="1169.50" y="56.90" width="65.00" height="31.20"/></clipPath>
<g clip-path="url(#c274)" stroke="#000" stroke-width="2.7">
<line x1="1139.20" y1="90.10" x2="1174.40" y2="54.90"/>
<line x1="1163.00" y1="90.10" x2="1198.20" y2="54.90"/>
<line x1="1186.80" y1="90.10" x2="1222.00" y2="54.90"/>
<line x1="1210.60" y1="90.10" x2="1245.80" y2="54.90"/>
<line x1="1234.40" y1="90.10" x2="1269.60" y2="54.90"/>
</g>
<rect x="1170.50" y="57.90" width="63.00" height="29.20" fill="none" stroke="#000" stroke-width="2"/>
<text x="1242.40" y="82.80" font-size="29.5" text-anchor="start" font-weight="normal" transform="matrix(1 0 0 1.04 0 -3.312)" >K-562</text>
<line x1="1461.80" y1="381.30" x2="1958.00" y2="381.30" stroke="#7a7a7a" stroke-width="3.2" />
<line x1="1461.8" y1="526.62" x2="1958" y2="526.62" stroke="#7a7a7a" stroke-width="3.0" stroke-dasharray="15,10.5" stroke-dashoffset="1.80"/>
<line x1="1485.10" y1="463.30" x2="1485.10" y2="435.90" stroke="#000" stroke-width="2" />
<line x1="1475.80" y1="435.90" x2="1494.40" y2="435.90" stroke="#000" stroke-width="2.2" />
<line x1="1521.60" y1="556.70" x2="1521.60" y2="534.70" stroke="#000" stroke-width="2" />
<line x1="1512.30" y1="534.70" x2="1530.90" y2="534.70" stroke="#000" stroke-width="2.2" />
<rect x="1470.50" y="463.90" width="29.20" height="160.20" fill="#c0c0c0" stroke="#222" stroke-width="1.3"/>
<rect x="1507.05" y="557.35" width="29.10" height="66.50" fill="#c0c0c0"/>
<clipPath id="c292"><rect x="1506.40" y="556.70" width="30.40" height="67.80"/></clipPath>
<g clip-path="url(#c292)" stroke="#000" stroke-width="2.6">
<line x1="1436.60" y1="626.50" x2="1508.40" y2="554.70"/>
<line x1="1460.20" y1="626.50" x2="1532.00" y2="554.70"/>
<line x1="1483.80" y1="626.50" x2="1555.60" y2="554.70"/>
<line x1="1507.40" y1="626.50" x2="1579.20" y2="554.70"/>
<line x1="1531.00" y1="626.50" x2="1602.80" y2="554.70"/>
<line x1="1554.60" y1="626.50" x2="1626.40" y2="554.70"/>
</g>
<rect x="1507.05" y="557.35" width="29.10" height="66.50" fill="none" stroke="#222" stroke-width="1.3"/>
<line x1="1567.95" y1="417.10" x2="1567.95" y2="387.30" stroke="#000" stroke-width="2" />
<line x1="1558.65" y1="387.30" x2="1577.25" y2="387.30" stroke="#000" stroke-width="2.2" />
<line x1="1604.45" y1="509.20" x2="1604.45" y2="482.90" stroke="#000" stroke-width="2" />
<line x1="1595.15" y1="482.90" x2="1613.75" y2="482.90" stroke="#000" stroke-width="2.2" />
<rect x="1553.35" y="417.70" width="29.20" height="206.40" fill="#c0c0c0" stroke="#222" stroke-width="1.3"/>
<rect x="1589.90" y="509.85" width="29.10" height="114.00" fill="#c0c0c0"/>
<clipPath id="c308"><rect x="1589.25" y="509.20" width="30.40" height="115.30"/></clipPath>
<g clip-path="url(#c308)" stroke="#000" stroke-width="2.6">
<line x1="1471.95" y1="626.50" x2="1591.25" y2="507.20"/>
<line x1="1495.55" y1="626.50" x2="1614.85" y2="507.20"/>
<line x1="1519.15" y1="626.50" x2="1638.45" y2="507.20"/>
<line x1="1542.75" y1="626.50" x2="1662.05" y2="507.20"/>
<line x1="1566.35" y1="626.50" x2="1685.65" y2="507.20"/>
<line x1="1589.95" y1="626.50" x2="1709.25" y2="507.20"/>
<line x1="1613.55" y1="626.50" x2="1732.85" y2="507.20"/>
<line x1="1637.15" y1="626.50" x2="1756.45" y2="507.20"/>
</g>
<rect x="1589.90" y="509.85" width="29.10" height="114.00" fill="none" stroke="#222" stroke-width="1.3"/>
<line x1="1650.80" y1="511.20" x2="1650.80" y2="484.10" stroke="#000" stroke-width="2" />
<line x1="1641.50" y1="484.10" x2="1660.10" y2="484.10" stroke="#000" stroke-width="2.2" />
<line x1="1687.30" y1="510.40" x2="1687.30" y2="481.00" stroke="#000" stroke-width="2" />
<line x1="1678.00" y1="481.00" x2="1696.60" y2="481.00" stroke="#000" stroke-width="2.2" />
<rect x="1636.20" y="511.80" width="29.20" height="112.30" fill="#d9495a" stroke="#222" stroke-width="1.3"/>
<rect x="1672.75" y="511.05" width="29.10" height="112.80" fill="#d9495a"/>
<clipPath id="c326"><rect x="1672.10" y="510.40" width="30.40" height="114.10"/></clipPath>
<g clip-path="url(#c326)" stroke="#000" stroke-width="2.6">
<line x1="1556.00" y1="626.50" x2="1674.10" y2="508.40"/>
<line x1="1579.60" y1="626.50" x2="1697.70" y2="508.40"/>
<line x1="1603.20" y1="626.50" x2="1721.30" y2="508.40"/>
<line x1="1626.80" y1="626.50" x2="1744.90" y2="508.40"/>
<line x1="1650.40" y1="626.50" x2="1768.50" y2="508.40"/>
<line x1="1674.00" y1="626.50" x2="1792.10" y2="508.40"/>
<line x1="1697.60" y1="626.50" x2="1815.70" y2="508.40"/>
<line x1="1721.20" y1="626.50" x2="1839.30" y2="508.40"/>
</g>
<rect x="1672.75" y="511.05" width="29.10" height="112.80" fill="none" stroke="#222" stroke-width="1.3"/>
<line x1="1733.65" y1="483.70" x2="1733.65" y2="470.00" stroke="#000" stroke-width="2" />
<line x1="1724.35" y1="470.00" x2="1742.95" y2="470.00" stroke="#000" stroke-width="2.2" />
<line x1="1770.15" y1="519.40" x2="1770.15" y2="503.30" stroke="#000" stroke-width="2" />
<line x1="1760.85" y1="503.30" x2="1779.45" y2="503.30" stroke="#000" stroke-width="2.2" />
<rect x="1719.05" y="484.30" width="29.20" height="139.80" fill="#d9495a" stroke="#222" stroke-width="1.3"/>
<rect x="1755.60" y="520.05" width="29.10" height="103.80" fill="#d9495a"/>
<clipPath id="c344"><rect x="1754.95" y="519.40" width="30.40" height="105.10"/></clipPath>
<g clip-path="url(#c344)" stroke="#000" stroke-width="2.6">
<line x1="1647.85" y1="626.50" x2="1756.95" y2="517.40"/>
<line x1="1671.45" y1="626.50" x2="1780.55" y2="517.40"/>
<line x1="1695.05" y1="626.50" x2="1804.15" y2="517.40"/>
<line x1="1718.65" y1="626.50" x2="1827.75" y2="517.40"/>
<line x1="1742.25" y1="626.50" x2="1851.35" y2="517.40"/>
<line x1="1765.85" y1="626.50" x2="1874.95" y2="517.40"/>
<line x1="1789.45" y1="626.50" x2="1898.55" y2="517.40"/>
</g>
<rect x="1755.60" y="520.05" width="29.10" height="103.80" fill="none" stroke="#222" stroke-width="1.3"/>
<line x1="1816.50" y1="413.10" x2="1816.50" y2="360.20" stroke="#000" stroke-width="2" />
<line x1="1807.20" y1="360.20" x2="1825.80" y2="360.20" stroke="#000" stroke-width="2.2" />
<line x1="1853.00" y1="466.50" x2="1853.00" y2="430.80" stroke="#000" stroke-width="2" />
<line x1="1843.70" y1="430.80" x2="1862.30" y2="430.80" stroke="#000" stroke-width="2.2" />
<rect x="1801.90" y="413.70" width="29.20" height="210.40" fill="#6aa15a" stroke="#222" stroke-width="1.3"/>
<rect x="1838.45" y="467.15" width="29.10" height="156.70" fill="#6aa15a"/>
<clipPath id="c361"><rect x="1837.80" y="466.50" width="30.40" height="158.00"/></clipPath>
<g clip-path="url(#c361)" stroke="#000" stroke-width="2.6">
<line x1="1677.80" y1="626.50" x2="1839.80" y2="464.50"/>
<line x1="1701.40" y1="626.50" x2="1863.40" y2="464.50"/>
<line x1="1725.00" y1="626.50" x2="1887.00" y2="464.50"/>
<line x1="1748.60" y1="626.50" x2="1910.60" y2="464.50"/>
<line x1="1772.20" y1="626.50" x2="1934.20" y2="464.50"/>
<line x1="1795.80" y1="626.50" x2="1957.80" y2="464.50"/>
<line x1="1819.40" y1="626.50" x2="1981.40" y2="464.50"/>
<line x1="1843.00" y1="626.50" x2="2005.00" y2="464.50"/>
<line x1="1866.60" y1="626.50" x2="2028.60" y2="464.50"/>
</g>
<rect x="1838.45" y="467.15" width="29.10" height="156.70" fill="none" stroke="#222" stroke-width="1.3"/>
<line x1="1899.35" y1="160.10" x2="1899.35" y2="85.70" stroke="#000" stroke-width="2" />
<line x1="1890.05" y1="85.70" x2="1908.65" y2="85.70" stroke="#000" stroke-width="2.2" />
<line x1="1935.85" y1="200.20" x2="1935.85" y2="104.50" stroke="#000" stroke-width="2" />
<line x1="1926.55" y1="104.50" x2="1945.15" y2="104.50" stroke="#000" stroke-width="2.2" />
<rect x="1884.75" y="160.70" width="29.20" height="463.40" fill="#6aa15a" stroke="#222" stroke-width="1.3"/>
<rect x="1921.30" y="200.85" width="29.10" height="423.00" fill="#6aa15a"/>
<clipPath id="c380"><rect x="1920.65" y="200.20" width="30.40" height="424.30"/></clipPath>
<g clip-path="url(#c380)" stroke="#000" stroke-width="2.6">
<line x1="1494.35" y1="626.50" x2="1922.65" y2="198.20"/>
<line x1="1517.95" y1="626.50" x2="1946.25" y2="198.20"/>
<line x1="1541.55" y1="626.50" x2="1969.85" y2="198.20"/>
<line x1="1565.15" y1="626.50" x2="1993.45" y2="198.20"/>
<line x1="1588.75" y1="626.50" x2="2017.05" y2="198.20"/>
<line x1="1612.35" y1="626.50" x2="2040.65" y2="198.20"/>
<line x1="1635.95" y1="626.50" x2="2064.25" y2="198.20"/>
<line x1="1659.55" y1="626.50" x2="2087.85" y2="198.20"/>
<line x1="1683.15" y1="626.50" x2="2111.45" y2="198.20"/>
<line x1="1706.75" y1="626.50" x2="2135.05" y2="198.20"/>
<line x1="1730.35" y1="626.50" x2="2158.65" y2="198.20"/>
<line x1="1753.95" y1="626.50" x2="2182.25" y2="198.20"/>
<line x1="1777.55" y1="626.50" x2="2205.85" y2="198.20"/>
<line x1="1801.15" y1="626.50" x2="2229.45" y2="198.20"/>
<line x1="1824.75" y1="626.50" x2="2253.05" y2="198.20"/>
<line x1="1848.35" y1="626.50" x2="2276.65" y2="198.20"/>
<line x1="1871.95" y1="626.50" x2="2300.25" y2="198.20"/>
<line x1="1895.55" y1="626.50" x2="2323.85" y2="198.20"/>
<line x1="1919.15" y1="626.50" x2="2347.45" y2="198.20"/>
<line x1="1942.75" y1="626.50" x2="2371.05" y2="198.20"/>
<line x1="1966.35" y1="626.50" x2="2394.65" y2="198.20"/>
</g>
<rect x="1921.30" y="200.85" width="29.10" height="423.00" fill="none" stroke="#222" stroke-width="1.3"/>
<path d="M1461.8,718 L1461.8,47.9 L1958.3,47.9 L1958.3,718" fill="none" stroke="#000" stroke-width="3"/>
<line x1="1449.20" y1="623.50" x2="1960.00" y2="623.50" stroke="#000" stroke-width="3" />
<line x1="1449.20" y1="623.50" x2="1461.80" y2="623.50" stroke="#000" stroke-width="3" />
<text x="1440.80" y="632.40" font-size="29.5" text-anchor="end" font-weight="normal" transform="matrix(1 0 0 1.04 0 -25.296)" >0</text>
<line x1="1455.30" y1="575.06" x2="1461.80" y2="575.06" stroke="#000" stroke-width="3" />
<line x1="1449.20" y1="526.62" x2="1461.80" y2="526.62" stroke="#000" stroke-width="3" />
<text x="1440.80" y="535.52" font-size="29.5" text-anchor="end" font-weight="normal" transform="matrix(1 0 0 1.04 0 -21.421)" >2</text>
<line x1="1455.30" y1="478.18" x2="1461.80" y2="478.18" stroke="#000" stroke-width="3" />
<line x1="1449.20" y1="429.74" x2="1461.80" y2="429.74" stroke="#000" stroke-width="3" />
<text x="1440.80" y="438.64" font-size="29.5" text-anchor="end" font-weight="normal" transform="matrix(1 0 0 1.04 0 -17.546)" >4</text>
<line x1="1455.30" y1="381.30" x2="1461.80" y2="381.30" stroke="#000" stroke-width="3" />
<line x1="1449.20" y1="332.86" x2="1461.80" y2="332.86" stroke="#000" stroke-width="3" />
<text x="1440.80" y="341.76" font-size="29.5" text-anchor="end" font-weight="normal" transform="matrix(1 0 0 1.04 0 -13.670)" >6</text>
<line x1="1455.30" y1="284.42" x2="1461.80" y2="284.42" stroke="#000" stroke-width="3" />
<line x1="1449.20" y1="235.98" x2="1461.80" y2="235.98" stroke="#000" stroke-width="3" />
<text x="1440.80" y="244.88" font-size="29.5" text-anchor="end" font-weight="normal" transform="matrix(1 0 0 1.04 0 -9.795)" >8</text>
<line x1="1455.30" y1="187.54" x2="1461.80" y2="187.54" stroke="#000" stroke-width="3" />
<line x1="1449.20" y1="139.10" x2="1461.80" y2="139.10" stroke="#000" stroke-width="3" />
<text x="1440.80" y="148.00" font-size="29.5" text-anchor="end" font-weight="normal" transform="matrix(1 0 0 1.04 0 -5.920)" >10</text>
<line x1="1455.30" y1="90.66" x2="1461.80" y2="90.66" stroke="#000" stroke-width="3" />
<line x1="1544.80" y1="623.50" x2="1544.80" y2="670.50" stroke="#000" stroke-width="3" />
<line x1="1627.90" y1="623.50" x2="1627.90" y2="718.00" stroke="#000" stroke-width="3" />
<line x1="1710.50" y1="623.50" x2="1710.50" y2="670.50" stroke="#000" stroke-width="3" />
<line x1="1793.60" y1="623.50" x2="1793.60" y2="718.00" stroke="#000" stroke-width="3" />
<line x1="1876.20" y1="623.50" x2="1876.20" y2="670.50" stroke="#000" stroke-width="3" />
<text x="1503.30" y="657.80" font-size="29.5" text-anchor="middle" font-weight="normal" transform="matrix(1 0 0 1.04 0 -26.312)" >25</text>
<text x="1586.15" y="657.80" font-size="29.5" text-anchor="middle" font-weight="normal" transform="matrix(1 0 0 1.04 0 -26.312)" >50</text>
<text x="1669.00" y="657.80" font-size="29.5" text-anchor="middle" font-weight="normal" transform="matrix(1 0 0 1.04 0 -26.312)" >25</text>
<text x="1751.85" y="657.80" font-size="29.5" text-anchor="middle" font-weight="normal" transform="matrix(1 0 0 1.04 0 -26.312)" >50</text>
<text x="1834.70" y="657.80" font-size="29.5" text-anchor="middle" font-weight="normal" transform="matrix(1 0 0 1.04 0 -26.312)" >25</text>
<text x="1917.55" y="657.80" font-size="29.5" text-anchor="middle" font-weight="normal" transform="matrix(1 0 0 1.04 0 -26.312)" >50</text>
<text x="1544.60" y="705.30" font-size="29.5" text-anchor="middle" font-weight="normal" transform="matrix(1 0 0 1.04 0 -28.212)" >LPEI</text>
<text x="1710.30" y="705.30" font-size="29.5" text-anchor="middle" font-weight="normal" transform="matrix(1 0 0 1.04 0 -28.212)" letter-spacing="-0.45">PDMAEMA</text>
<text x="1876.00" y="705.30" font-size="29.5" text-anchor="middle" font-weight="normal" transform="matrix(1 0 0 1.04 0 -28.212)" >LAMA-mic</text>
<text x="1481.4" y="757.3" transform="matrix(1 0 0 1.04 0 -30.292)" font-size="32.2">Polymer concentration / µg mL<tspan font-size="22" dy="-13.2">-1</tspan></text>
<text transform="translate(1393.5,361.5) rotate(-90) scale(1,1.04)" x="0" y="0" font-size="32.6" text-anchor="middle">Absorption relative to Triton X-100 / %</text>
<text x="1610.20" y="33.50" font-size="41" text-anchor="start" font-weight="bold" transform="matrix(1 0 0 1.04 0 -1.340)" >c</text>
<text x="1649.80" y="31.10" font-size="32.5" text-anchor="start" font-weight="bold" transform="matrix(1 0 0 1.04 0 -1.244)" >Hemolysis</text>
<rect x="1477.1" y="62" width="69.8" height="33.1" fill="#c0c0c0" stroke="#333" stroke-width="1.2"/>
<text x="1557.10" y="89.40" font-size="32.5" text-anchor="start" font-weight="normal" transform="matrix(1 0 0 1.04 0 -3.576)" >pH 7.4</text>
<rect x="1662.10" y="62.10" width="69.10" height="32.80" fill="#c0c0c0"/>
<clipPath id="c446"><rect x="1661.50" y="61.50" width="70.30" height="34.00"/></clipPath>
<g clip-path="url(#c446)" stroke="#000" stroke-width="2.6">
<line x1="1625.50" y1="97.50" x2="1663.50" y2="59.50"/>
<line x1="1650.00" y1="97.50" x2="1688.00" y2="59.50"/>
<line x1="1674.50" y1="97.50" x2="1712.50" y2="59.50"/>
<line x1="1699.00" y1="97.50" x2="1737.00" y2="59.50"/>
<line x1="1723.50" y1="97.50" x2="1761.50" y2="59.50"/>
<line x1="1748.00" y1="97.50" x2="1786.00" y2="59.50"/>
</g>
<rect x="1662.10" y="62.10" width="69.10" height="32.80" fill="none" stroke="#333" stroke-width="1.2"/>
<text x="1741.50" y="89.40" font-size="32.5" text-anchor="start" font-weight="normal" transform="matrix(1 0 0 1.04 0 -3.576)" >pH 6.0</text>
<text x="1508.05" y="436.10" font-size="46" text-anchor="middle" font-weight="normal" transform="matrix(1 0 0 1.04 0 -17.444)" letter-spacing="2.7" stroke="#000" stroke-width="0.6">**</text>
<text x="1588.25" y="384.50" font-size="46" text-anchor="middle" font-weight="normal" transform="matrix(1 0 0 1.04 0 -15.380)" letter-spacing="2.7" stroke="#000" stroke-width="0.6">***</text>
<text x="1670.35" y="483.20" font-size="46" text-anchor="middle" font-weight="normal" transform="matrix(1 0 0 1.04 0 -19.328)" letter-spacing="2.7" stroke="#000" stroke-width="0.6">**</text>
<text x="1754.85" y="464.30" font-size="46" text-anchor="middle" font-weight="normal" transform="matrix(1 0 0 1.04 0 -18.572)" letter-spacing="2.7" stroke="#000" stroke-width="0.6">**</text>
<text x="1835.85" y="365.80" font-size="46" text-anchor="middle" font-weight="normal" transform="matrix(1 0 0 1.04 0 -14.632)" letter-spacing="2.7" stroke="#000" stroke-width="0.6">***</text>
<text x="1917.65" y="95.10" font-size="46" text-anchor="middle" font-weight="normal" transform="matrix(1 0 0 1.04 0 -3.804)" letter-spacing="2.7" stroke="#000" stroke-width="0.6">***</text>
</svg>
</body></html>
